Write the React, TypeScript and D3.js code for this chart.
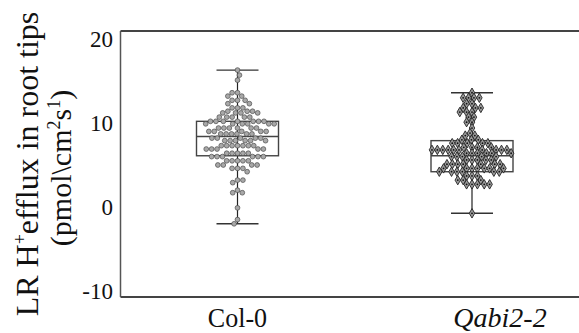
import React from "react";
import * as d3 from "d3";

const categories = ["Col-0", "Qabi2-2"];
const yTicks = [-10, 0, 10, 20];

// (approximate values, rows of the swarm)
const col0Values = [
  16.3, 15.7, 15.1,
  13.6, 13.6, 13.2, 13.2, 12.7, 12.7, 12.7, 12.3, 12.3,
  11.8, 11.8, 11.8, 11.4, 11.4, 11.4, 11.2, 11.2, 11.2, 11.2,
  10.7, 10.7, 10.7, 10.7, 10.7,
  10.2, 10.2, 10.2, 10.2, 10.2, 10.2, 10.2,
  9.9, 9.9, 9.9, 9.9, 9.9, 9.9,
  9.4, 9.4, 9.4, 9.4, 9.4, 9.4,
  9.0, 9.0, 9.0, 9.0, 9.0,
  8.7, 8.7, 8.7, 8.7, 8.7, 8.7,
  8.2, 8.2, 8.2, 8.2, 8.2,
  7.9, 7.9, 7.9, 7.9, 7.9, 7.9,
  7.3, 7.3, 7.3, 7.3, 7.3, 7.3, 7.3,
  6.9, 6.9, 6.9, 6.9, 6.9,
  6.4, 6.4, 6.4, 6.4, 6.4,
  6.0, 6.0, 6.0, 6.0, 6.0, 6.0,
  5.5, 5.5, 5.5, 5.5, 5.5,
  5.0, 5.0, 5.0, 5.0,
  4.6, 4.6, 4.6, 4.2,
  3.2, 3.2, 2.9, 2.0, 1.7, 1.7,
  -0.1, -1.5, -2.0,
];

const qabiValues = [
  13.6,
  13.0, 13.0, 13.0, 13.0,
  12.3, 12.3,
  11.8, 11.8, 11.8,
  11.3, 11.3, 11.3,
  10.7, 10.7,
  10.1, 10.1,
  9.4, 8.8,
  8.5, 8.5,
  8.0, 8.0, 8.0,
  7.6, 7.6, 7.6, 7.6, 7.6,
  7.1, 7.1, 7.1, 7.1,
  6.8, 6.8, 6.8, 6.8, 6.8, 6.8, 6.8, 6.8, 6.8, 6.8,
  6.4, 6.4, 6.4, 6.4, 6.4, 6.4,
  6.0, 6.0, 6.0, 6.0, 6.0,
  5.6, 5.6, 5.6, 5.6, 5.6,
  5.1, 5.1, 5.1, 5.1, 5.1, 5.1, 5.1,
  4.6, 4.6, 4.6, 4.6, 4.6, 4.6, 4.6,
  4.2, 4.2, 4.2, 4.2, 4.2, 4.2,
  3.7, 3.7, 3.7,
  3.2, 3.2, 3.2,
  2.7, 2.7, 2.7, 2.7, 2.7,
  -0.75,
];

// box stats: [whiskerLow, q1, median, q3, whiskerHigh]
const col0Box = [-2.0, 6.1, 8.4, 10.2, 16.3];
const qabiBox = [-0.75, 4.2, 6.1, 7.9, 13.6];

const groups = [
  { name: categories[0], values: col0Values, box: col0Box, marker: "circle" },
  { name: categories[1], values: qabiValues, box: qabiBox, marker: "diamond" },
];

function dodge(ys: number[], r: number) {
  const order = ys.map((y, i) => i).sort((a, b) => ys[a] - ys[b]);
  const placed: { x: number; y: number }[] = [];
  const xs = new Array(ys.length).fill(0);
  const d = 2 * r;
  let flip = 1;
  for (const i of order) {
    const y = ys[i];
    const near = placed.filter((p) => Math.abs(p.y - y) < d);
    const cands = [0];
    for (const p of near) {
      const dx = Math.sqrt(d * d - (p.y - y) * (p.y - y)) + 0.01;
      cands.push(p.x + dx, p.x - dx);
    }
    cands.sort((a, b) => Math.abs(a) - Math.abs(b) || (a - b) * flip);
    let chosen = 0;
    for (const c of cands) {
      if (near.every((p) => (p.x - c) ** 2 + (p.y - y) ** 2 >= d * d - 0.001)) {
        chosen = c;
        break;
      }
    }
    flip = -flip;
    xs[i] = chosen;
    placed.push({ x: chosen, y });
  }
  return xs;
}

export default function App() {
  const W = 579, H = 333;
  const y = d3.scaleLinear().domain([-10, 20]).range([291, 39]);
  const x = d3.scalePoint<string>().domain(categories).range([237.5, 472]);
  const frameL = 120.5, frameT = 31, frameB = 297;
  const boxW = 82, capW = 42, r = 2.4, rc = 2.7;
  const diamond = d3.symbol().type(d3.symbolDiamond).size(26)() as string;

  return (
    <svg width={W} height={H} style={{ position: "absolute", left: 0, top: 0, background: "#fff" }}
      fontFamily="'Liberation Serif', 'Times New Roman', serif">
      {/* frame */}
      <line x1={frameL} x2={W} y1={frameT} y2={frameT} stroke="#444" strokeWidth={1.8} />
      <line x1={frameL} x2={W} y1={frameB} y2={frameB} stroke="#444" strokeWidth={1.8} />
      <line x1={frameL} x2={frameL} y1={frameT} y2={frameB} stroke="#555" strokeWidth={1.5} />

      {/* y tick labels */}
      {yTicks.map((t) => (
        <text key={t} x={113} y={y(t)} dy="0.35em" textAnchor="end" fontSize={23} fill="#111">
          {t}
        </text>
      ))}

      {/* y label */}
      <g transform="translate(38,164) rotate(-90)">
        <text textAnchor="middle" fontSize={32} fill="#111">
          LR H<tspan fontSize={18} dy={-12}>+</tspan>
          <tspan dy={12}>efflux in root tips</tspan>
        </text>
      </g>
      <g transform="translate(71,168) rotate(-90)">
        <text textAnchor="middle" fontSize={30} fill="#111">
          (pmol\cm<tspan fontSize={18} dy={-11}>2</tspan>
          <tspan dy={11}>s</tspan>
          <tspan fontSize={18} dy={-11}>1</tspan>
          <tspan dy={11}>)</tspan>
        </text>
      </g>

      {/* boxes */}
      {groups.map((g) => {
        const cx = x(g.name)!;
        const [lo, q1, med, q3, hi] = g.box;
        const ys = g.values.map((v) => y(v));
        const xs = dodge(ys, rc);
        return (
          <g key={g.name}>
            <line x1={cx} x2={cx} y1={y(hi)} y2={y(lo)} stroke="#222" strokeWidth={1.2} />
            <line x1={cx - capW / 2} x2={cx + capW / 2} y1={y(hi)} y2={y(hi)} stroke="#333" strokeWidth={1.4} />
            <line x1={cx - capW / 2} x2={cx + capW / 2} y1={y(lo)} y2={y(lo)} stroke="#333" strokeWidth={1.4} />
            <rect x={cx - boxW / 2} y={y(q3)} width={boxW} height={y(q1) - y(q3)} fill="none" stroke="#444" strokeWidth={1.4} />
            <line x1={cx - boxW / 2} x2={cx + boxW / 2} y1={y(med)} y2={y(med)} stroke="#444" strokeWidth={1.4} />
            {ys.map((py, i) =>
              g.marker === "circle" ? (
                <circle key={i} cx={cx + xs[i]} cy={py} r={r} fill="#a8a8a8" stroke="#4a4a4a" strokeWidth={0.7} />
              ) : (
                <g key={i} transform={`translate(${cx + xs[i]},${py})`}>
                  <path d={diamond} fill="#9a9a9a" stroke="#222" strokeWidth={0.9} />
                  <circle r={0.9} fill="#111" />
                </g>
              )
            )}
          </g>
        );
      })}

      {/* category labels */}
      <text x={x(categories[0])} y={327} textAnchor="middle" fontSize={28} fill="#111"
        transform={`translate(${x(categories[0])},0) scale(0.93,1) translate(${-x(categories[0])!},0)`}>
        {categories[0]}
      </text>
      <text x={500} y={327} textAnchor="middle" fontSize={28} fontStyle="italic" fill="#111">
        {categories[1]}
      </text>
    </svg>
  );
}
